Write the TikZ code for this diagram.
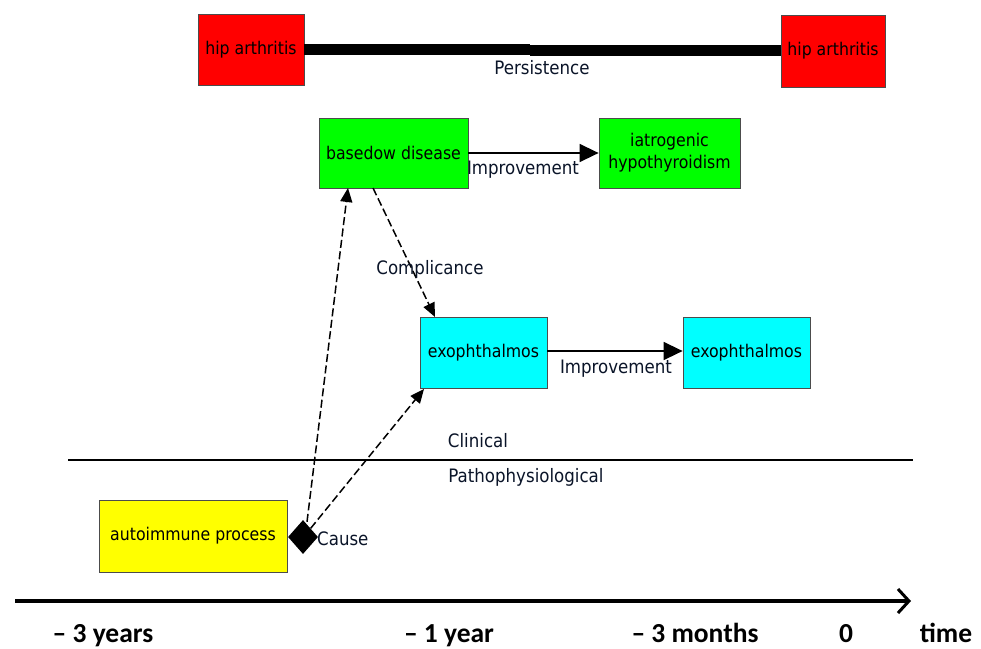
\documentclass[tikz,border=0pt]{standalone}
\usepackage{fontspec}
\setmainfont{DejaVu Sans Condensed}
\newfontfamily\axisfont{Carlito}
\usetikzlibrary{arrows.meta,shapes.geometric}
\definecolor{boxred}{RGB}{255,0,0}
\definecolor{boxgreen}{RGB}{0,255,0}
\definecolor{boxcyan}{RGB}{0,255,255}
\definecolor{boxyellow}{RGB}{255,255,0}
\definecolor{lblcol}{RGB}{10,20,40}
\begin{document}
\begin{tikzpicture}[x=1pt,y=-1pt,
  box/.style={draw=black!70,line width=0.8pt,inner sep=0pt,align=center,font=\fontsize{17.5}{22}\selectfont},
  lbl/.style={font=\fontsize{18.5}{22}\selectfont,inner sep=1pt,text=lblcol},
  axlbl/.style={font=\axisfont\bfseries\fontsize{27.5}{30}\selectfont,inner sep=0pt},
  solidarr/.style={line width=1.5pt,-{Triangle[length=19pt,width=18pt]}},
  dasharr/.style={line width=1.5pt,dash pattern=on 8pt off 3.5pt,-{Triangle[length=14pt,width=12pt]}}]
\useasboundingbox (0,0) rectangle (981,648);
% boxes
\node[box,fill=boxred,minimum width=106pt,minimum height=71pt] (ha1) at (251,49.5) {hip arthritis};
\node[box,fill=boxred,minimum width=104pt,minimum height=72pt] (ha2) at (833,51) {hip arthritis};
\node[box,fill=boxgreen,minimum width=149pt,minimum height=70pt] (bd) at (393.5,153) {basedow disease};
\node[box,fill=boxgreen,minimum width=141pt,minimum height=70pt] (ih) at (669.5,153) {iatrogenic\\hypothyroidism};
\node[box,fill=boxcyan,minimum width=127pt,minimum height=71pt] (ex1) at (483.5,352.5) {exophthalmos};
\node[box,fill=boxcyan,minimum width=127pt,minimum height=71pt] (ex2) at (746.5,352.5) {exophthalmos};
\node[box,fill=boxyellow,minimum width=188pt,minimum height=72pt] (ai) at (193,536) {autoimmune process};
\node[diamond,fill=black,minimum width=30pt,minimum height=34pt,inner sep=0pt] (dm) at (303,537) {};
% persistence
\coordinate (pm) at (530,50);
\draw[line width=11pt] (ha1.east |- 0,49.5) -- (pm |- 0,49.5);
\draw[line width=11pt] (pm |- 0,50.5) -- (ha2.west |- 0,50.5);
\node[lbl] (pers) at (542,68) {Persistence};
% improvements
\draw[solidarr] (bd.east |- 0,153) -- (ih.west |- 0,153);
\node[lbl] (imp1) at (523,170) {Improvement};
\draw[solidarr] (ex1.east |- 0,351) -- (ex2.west |- 0,351);
\node[lbl] (imp2) at (616,369) {Improvement};
% dashed
\coordinate (bdb) at (348,188);
\coordinate (bdb2) at (373,188);
\coordinate (ext) at (435,317);
\coordinate (exbl) at (424,389);
\draw[dasharr] (dm.north) ++(4,2) -- (bdb);
\draw[dasharr] (dm.north east) -- (exbl);
\draw[dasharr] (bdb2) -- (ext);
\node[lbl] (comp) at (430,269) {Complicance};
\node[lbl,anchor=west] (cause) at (316,539) {Cause};
% divider
\coordinate (dl) at (68,460);
\coordinate (dr) at (913,460);
\draw[line width=1.2pt] (dl) -- (dr);
\node[lbl] (clin) at (478,441) {Clinical};
\node[lbl] (path) at (526,477) {Pathophysiological};
% time axis
\coordinate (tl) at (15,601);
\coordinate (tr) at (911,601);
\draw[line width=4pt,-{Straight Barb[length=11pt,width=24pt,line width=3pt]}] (tl) -- (tr);
\node[axlbl,anchor=base] (t1) at (103,642) {– 3 years};
\node[axlbl,anchor=base] (t2) at (449,642) {– 1 year};
\node[axlbl,anchor=base] (t3) at (695,642) {– 3 months};
\node[axlbl,anchor=base] (t4) at (846,642) {0};
\node[axlbl,anchor=base] (t5) at (946,642) {time};
\end{tikzpicture}
\end{document}
